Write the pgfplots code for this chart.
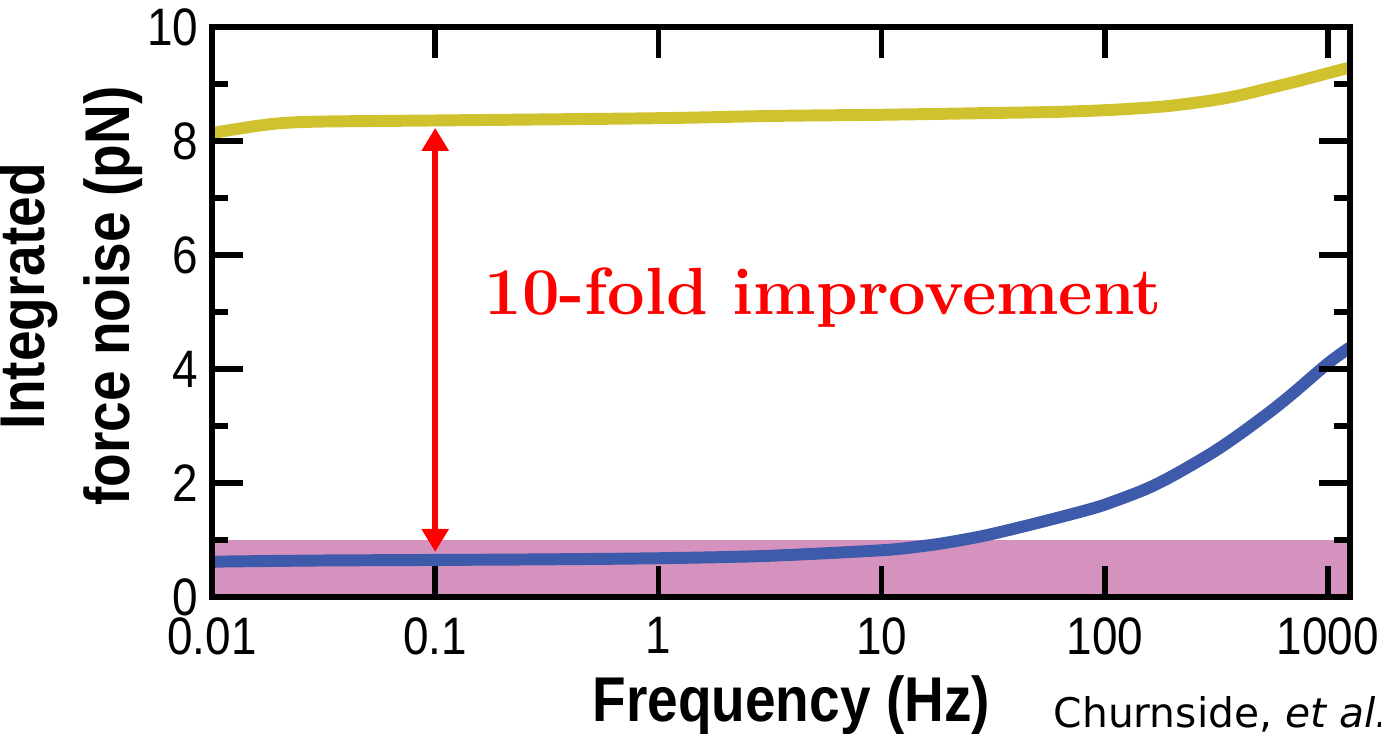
\documentclass[border=0pt]{standalone}
\usepackage{fontspec}
\newfontfamily\arialc[FakeStretch=0.87]{Liberation Sans}
\newfontfamily\notefont{DejaVu Sans}
\usepackage{pgfplots}
\pgfplotsset{compat=1.18}
\usepackage{pgfplotstable}
\usetikzlibrary{arrows.meta}
\definecolor{bandpink}{RGB}{214,146,190}
\definecolor{curveblue}{RGB}{62,90,170}
\definecolor{curveyellow}{RGB}{208,194,46}

% integrated force noise, conventional trap (yellow) and new trap (blue)
\pgfplotstableread{
f F
0.01 8.14
0.015 8.25
0.02 8.31
0.03 8.34
0.1 8.36
1 8.40
3.3 8.44
10 8.46
30 8.49
60 8.51
100 8.54
150 8.58
200 8.62
300 8.71
400 8.80
550 8.93
750 9.06
1000 9.19
1255 9.29
}\yellowdata
\pgfplotstableread{
f F
0.01 0.62
0.03 0.64
0.1 0.65
0.3 0.66
1 0.68
3 0.72
10 0.82
15 0.89
20 0.96
30 1.09
50 1.30
77 1.49
100 1.62
150 1.88
200 2.12
300 2.52
400 2.85
550 3.25
700 3.58
1000 4.10
1255 4.38
}\bluedata

\begin{document}
\begin{tikzpicture}
\begin{axis}[
  scale only axis,
  width=113.8mm, height=57mm,
  xmode=log,
  xmin=0.01, xmax=1255,
  ymin=0, ymax=10,
  axis line style={line width=1.7pt},
  every tick/.style={black, line width=1.6pt},
  tick align=inside,
  major tick length=3.1mm,
  minor tick length=1.6mm,
  xtick={0.01,0.1,1,10,100,1000},
  xticklabels={0.01,0.1,1,10,100,1000},
  xminorticks=false,
  ytick={0,2,4,6,8,10},
  yticklabels={0,2,4,6,8,10},
  minor ytick={1,3,5,7,9},
  ticklabel style={font=\arialc\fontsize{15}{18}\selectfont, inner sep=0.5mm},
  xticklabel style={yshift=-1.5mm},
  yticklabel style={xshift=-0.8mm},
  xlabel={Frequency (Hz)},
  xlabel style={font=\arialc\bfseries\fontsize{18}{22}\selectfont,
    at={(axis description cs:0.509,0)}, anchor=north, inner sep=0pt, yshift=-7.8mm},
  ylabel={Integrated\\force noise (pN)},
  ylabel style={font=\arialc\bfseries\fontsize{18}{24}\selectfont, align=center,
    at={(axis description cs:0,0.528)}, anchor=south, inner sep=0pt, yshift=6.9mm},
  axis on top,
]
\addplot[fill=bandpink, draw=none] coordinates {(0.01,1) (1255,1)} \closedcycle;
\addplot[curveyellow, line width=3.4pt, smooth] table[x=f, y=F] {\yellowdata};
\addplot[curveblue, line width=3.4pt, smooth] table[x=f, y=F] {\bluedata};
\draw[red, line width=1.6pt, {Triangle[length=2.3mm,width=2.6mm]}-{Triangle[length=2.3mm,width=2.6mm]}]
  (axis cs:0.1,0.79) -- (axis cs:0.1,8.23);
\node[red, anchor=west, inner sep=0pt, font=\bfseries\fontsize{19}{22}\selectfont]
  at (axis cs:0.165,5.25) {10-fold improvement};
\coordinate (ll) at (rel axis cs:0,0);
\end{axis}
\node[anchor=base west, inner sep=0pt, font=\notefont\fontsize{11.6}{13}\selectfont]
  at ([xshift=84.1mm, yshift=-13.1mm]ll) {Churnside, \textit{et al.},};
\pgfresetboundingbox
\useasboundingbox ([xshift=-21.2mm, yshift=-13.7mm]ll) rectangle ([xshift=116.9mm, yshift=59.7mm]ll);
\end{tikzpicture}
\end{document}
